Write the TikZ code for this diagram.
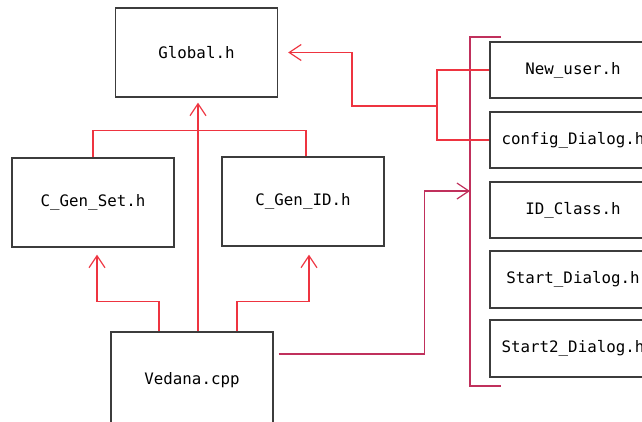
\documentclass[tikz,border=0pt]{standalone}
\usepackage{fontspec}
\setmonofont{DejaVu Sans Mono}
\usetikzlibrary{arrows.meta}

\definecolor{linkred}{RGB}{238,52,64}
\definecolor{linkplum}{RGB}{192,48,92}
\definecolor{boxgray}{RGB}{60,60,60}

\tikzset{
  >={Straight Barb[length=12pt,width=16pt]},
  hfile/.style={draw=boxgray, line width=1.3pt, minimum width=162pt, minimum height=89pt,
    font=\ttfamily\fontsize{15.8}{19}\selectfont},
  dlg/.style={hfile, minimum width=166pt, minimum height=56pt},
  redline/.style={draw=linkred, line width=1.2pt},
  plumline/.style={draw=linkplum, line width=1.2pt}
}

\begin{document}
\begin{tikzpicture}[x=1pt, y=-1pt]
  \useasboundingbox (0,0) rectangle (642,421);
  \clip (0,0) rectangle (642,421);

  % headers on the left
  \node[hfile] (glob) at (196.5,52.5) {Global.h};
  \node[hfile] (cgs) at (93,202.5) {C\_Gen\_Set.h};
  \node[hfile] (cgi) at (303,201.5) {C\_Gen\_ID.h};
  \node[hfile, minimum height=96pt] (ved) at (192,380) {\raisebox{3pt}{Vedana.cpp}};

  % dialog headers on the right
  \node[dlg] (newu) at (573,70) {New\_user.h};
  \node[dlg] (conf) at (573,140) {config\_Dialog.h};
  \node[dlg] (idc) at (573,210) {ID\_Class.h};
  \node[dlg, minimum height=57pt] (sd) at (573,279.5) {Start\_Dialog.h};
  \node[dlg, minimum height=57pt] (sdb) at (573,348.5) {Start2\_Dialog.h};

  % bracket round the dialogs
  \coordinate (btop) at (470,37);
  \coordinate (bbot) at (470,386);
  \coordinate (bin) at (470,191);
  \draw[plumline] (501,37) -- (btop) -- (bbot) -- (501,386);

  % Vedana.cpp includes
  \draw[redline, ->] ([xshift=6pt]ved.north) -- ([xshift=1.5pt,yshift=-5pt]glob.south);
  \draw[redline, ->] ([xshift=-33pt]ved.north) -- ++(0,-30) -| ([xshift=4pt,yshift=-7pt]cgs.south);
  \draw[redline, ->] ([xshift=45pt]ved.north) -- ++(0,-30) -| ([xshift=6pt,yshift=-8pt]cgi.south);
  \draw[plumline, ->] ([xshift=5pt,yshift=26pt]ved.east) -- ++(146,0) |- (bin);

  % C_Gen headers joined
  \draw[redline] (cgs.north) -- ++(0,-27) -| ([xshift=3pt]cgi.north);

  % dialogs up to Global.h
  \coordinate (jn) at (437,106);
  \draw[redline] (newu.west) -| (jn) |- (conf.west);
  \draw[redline, ->] (jn) -- ++(-85,0) |- ([xshift=10pt]glob.east);
\end{tikzpicture}
\end{document}
